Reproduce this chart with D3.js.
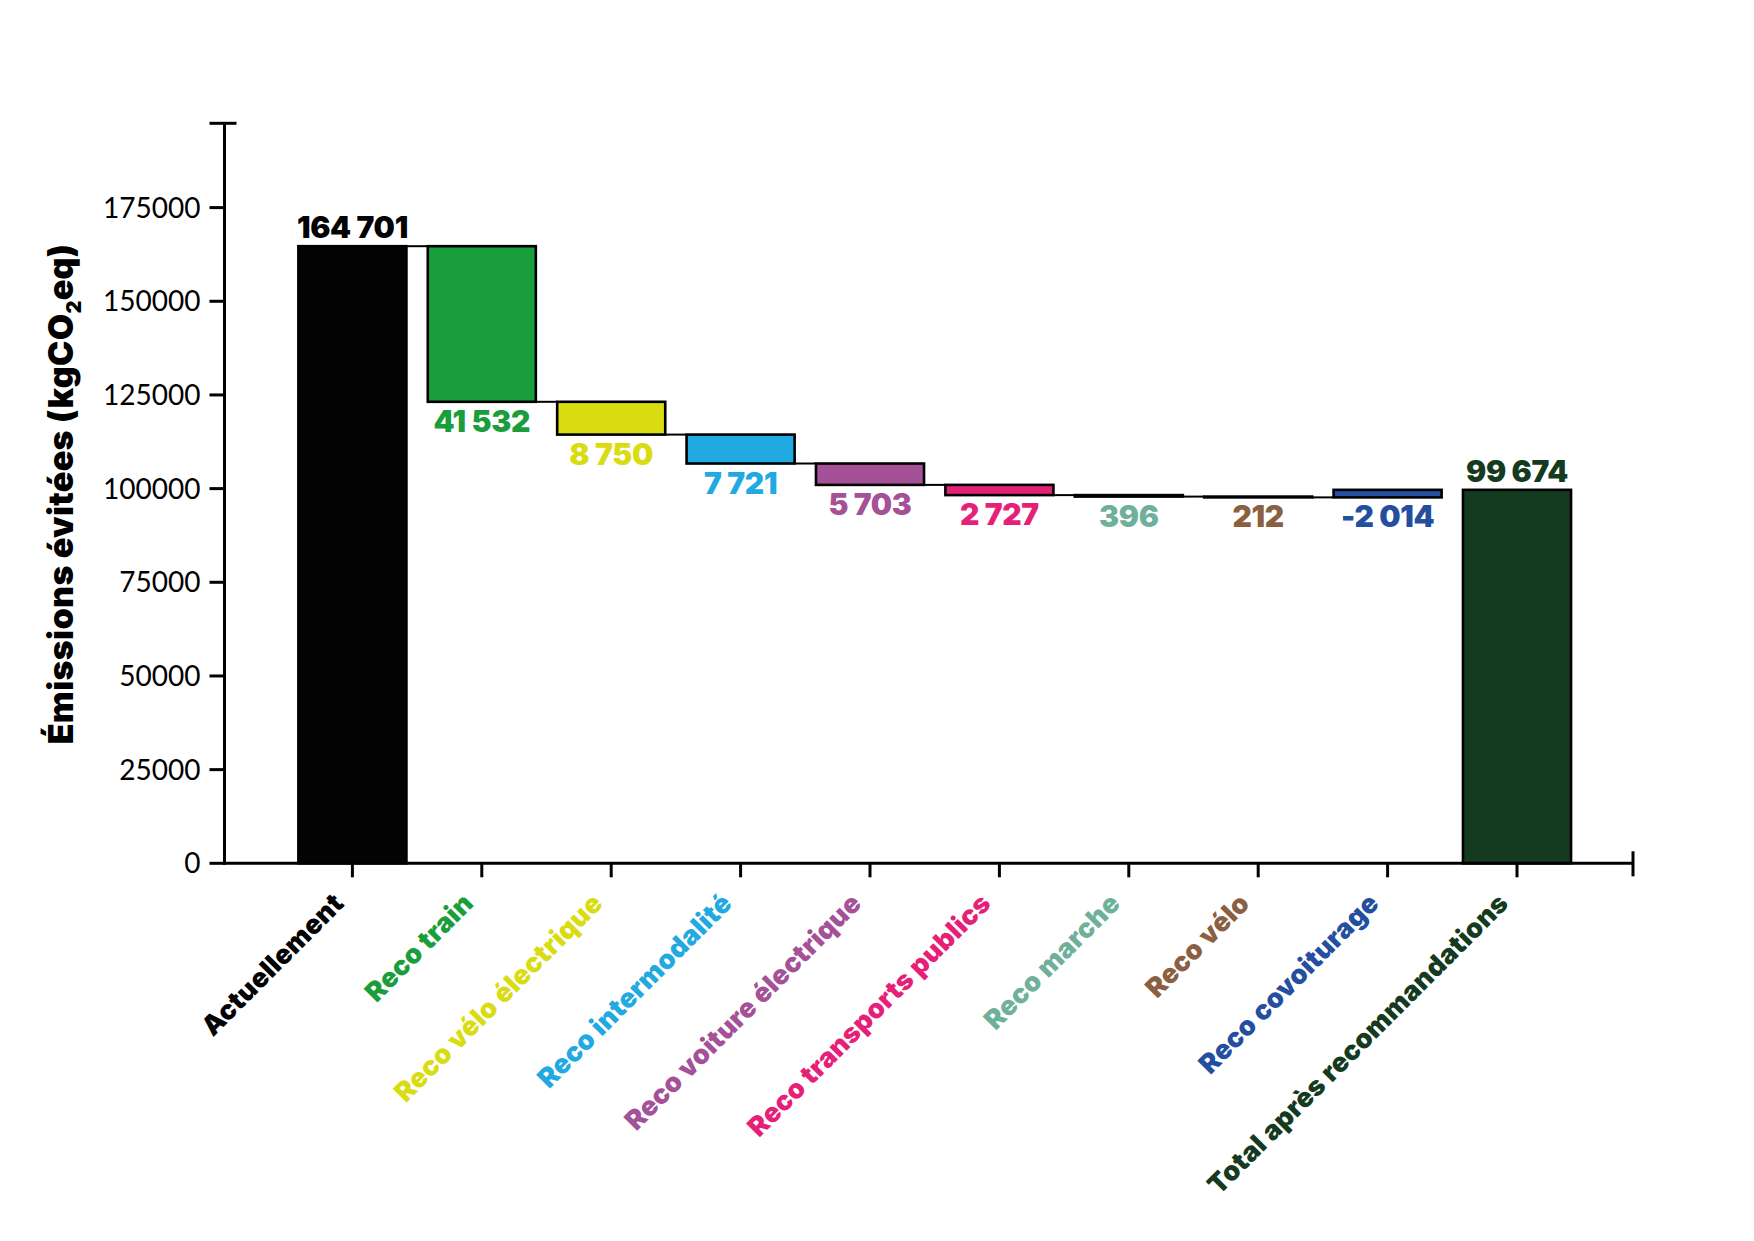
<html>
<head>
<style>
body { margin:0; padding:0; background:white; }
</style>
<script src="https://cdn.jsdelivr.net/npm/d3@7/dist/d3.min.js"></script>
</head>
<body>
<div id="chart"></div>
<script>
// data
var categories = ["Actuellement", "Reco train", "Reco vélo électrique", "Reco intermodalité",
  "Reco voiture électrique", "Reco transports publics", "Reco marche", "Reco vélo",
  "Reco covoiturage", "Total après recommandations"];
var startValue = 164701;
var reductions = [41532, 8750, 7721, 5703, 2727, 396, 212, -2014];
var totalValue = 99674;
var colors = ["#030303", "#1a9e3b", "#d9dc11", "#21a9e1", "#a45198", "#e61f78",
  "#6fb09b", "#8a6040", "#244e9f", "#143a20"];
var yTicks = [0, 25000, 50000, 75000, 100000, 125000, 150000, 175000];
var yMax = 197500;

var W = 1754, H = 1241;
var boldFont = "Inter, 'Open Sans', sans-serif";
var fr = d3.formatLocale({decimal: ",", thousands: " ", grouping: [3], currency: ["", " €"], minus: "-"});
var fmt = fr.format(",d");

// build the waterfall steps
var bars = [];
var level = startValue;
bars.push({name: categories[0], y0: 0, y1: startValue, label: startValue, kind: "total"});
for (var i = 0; i < reductions.length; i++) {
  var next = level - reductions[i];
  bars.push({name: categories[i + 1], y0: Math.min(level, next), y1: Math.max(level, next),
    from: level, to: next, label: reductions[i], kind: "step"});
  level = next;
}
bars.push({name: categories[categories.length - 1], y0: 0, y1: totalValue, label: totalValue, kind: "total"});
bars.forEach(function(d, i){ d.color = colors[i]; });

var svg = d3.select("#chart").append("svg")
  .attr("width", W).attr("height", H)
  .style("font-family", "Lato, sans-serif");

var y = d3.scaleLinear().domain([0, yMax]).range([863.3, 123.3]);
var x = d3.scaleBand().domain(categories).range([287.7, 1581.7])
  .paddingInner(0.165).paddingOuter(0.0825);
var axisX = 224.5, axisRight = 1633;

// connectors between the bars
var links = [];
for (var i = 0; i < bars.length - 2; i++) {
  var lv = (i == 0) ? bars[0].y1 : bars[i].to;
  links.push({a: categories[i], b: categories[i + 1], v: lv});
}
svg.selectAll("line.link").data(links).enter().append("line")
  .attr("class", "link")
  .attr("x1", function(d){ return x(d.a) + x.bandwidth(); })
  .attr("x2", function(d){ return x(d.b); })
  .attr("y1", function(d){ return y(d.v); })
  .attr("y2", function(d){ return y(d.v); })
  .attr("stroke", "#000").attr("stroke-width", 2);

// bars
svg.selectAll("rect.bar").data(bars).enter().append("rect")
  .attr("class", "bar")
  .attr("x", function(d){ return x(d.name); })
  .attr("width", x.bandwidth())
  .attr("y", function(d){ return y(d.y1); })
  .attr("height", function(d){ return y(d.y0) - y(d.y1); })
  .attr("fill", function(d){ return d.color; })
  .attr("stroke", "#000")
  .attr("stroke-width", 2.6);

// value labels
svg.selectAll("text.val").data(bars).enter().append("text")
  .attr("class", "val")
  .attr("x", function(d){ return x(d.name) + x.bandwidth() / 2; })
  .attr("y", function(d){ return d.kind == "total" ? y(d.y1) - 8 : y(d.y0) + 30; })
  .attr("text-anchor", "middle")
  .attr("font-family", boldFont)
  .attr("font-size", "30px")
  .attr("font-weight", 900)
  .attr("letter-spacing", "-0.3px")
  .attr("fill", function(d){ return d.color; })
  .text(function(d){ return fmt(d.label); });

// y axis
var gy = svg.append("g");
gy.append("line").attr("x1", axisX).attr("x2", axisX).attr("y1", y(yMax)).attr("y2", y(0) + 1.5)
  .attr("stroke", "#000").attr("stroke-width", 3);
gy.selectAll("line.tick").data(yTicks).enter().append("line")
  .attr("x1", axisX - 15).attr("x2", axisX)
  .attr("y1", function(d){ return y(d); }).attr("y2", function(d){ return y(d); })
  .attr("stroke", "#000").attr("stroke-width", 3);
gy.append("line").attr("x1", axisX - 15).attr("x2", axisX + 12)
  .attr("y1", y(yMax)).attr("y2", y(yMax))
  .attr("stroke", "#000").attr("stroke-width", 3);
gy.selectAll("text").data(yTicks).enter().append("text")
  .attr("x", axisX - 24)
  .attr("y", function(d){ return y(d); })
  .attr("dy", "0.36em")
  .attr("text-anchor", "end")
  .attr("font-size", "28px")
  .attr("fill", "#000")
  .text(function(d){ return d; });

// y title
var title = svg.append("text")
  .attr("transform", "translate(73,494) rotate(-90)")
  .attr("text-anchor", "middle")
  .attr("font-family", boldFont)
  .attr("font-size", "34px")
  .attr("font-weight", 900)
  .attr("letter-spacing", "0.3px")
  .attr("fill", "#000");
title.append("tspan").text("Émissions évitées (kgCO");
title.append("tspan").attr("font-size", "20px").attr("dy", 8).text("2");
title.append("tspan").attr("dy", -8).text("eq)");

// x axis
var gx = svg.append("g");
gx.append("line").attr("x1", axisX - 1.5).attr("x2", axisRight).attr("y1", y(0)).attr("y2", y(0))
  .attr("stroke", "#000").attr("stroke-width", 3);
gx.append("line").attr("x1", axisRight).attr("x2", axisRight).attr("y1", y(0) - 12).attr("y2", y(0) + 13)
  .attr("stroke", "#000").attr("stroke-width", 3);
gx.selectAll("line.tick").data(categories).enter().append("line")
  .attr("x1", function(d){ return x(d) + x.bandwidth() / 2; })
  .attr("x2", function(d){ return x(d) + x.bandwidth() / 2; })
  .attr("y1", y(0)).attr("y2", y(0) + 14)
  .attr("stroke", "#000").attr("stroke-width", 3);
gx.selectAll("text").data(bars).enter().append("text")
  .attr("transform", function(d){ return "translate(" + (x(d.name) + x.bandwidth() / 2 - 7) + ",905) rotate(-45)"; })
  .attr("text-anchor", "end")
  .attr("font-family", boldFont)
  .attr("font-size", "27px")
  .attr("font-weight", 900)
  .attr("letter-spacing", "0.3px")
  .attr("fill", function(d){ return d.color; })
  .text(function(d){ return d.name; });
</script>
</body>
</html>
